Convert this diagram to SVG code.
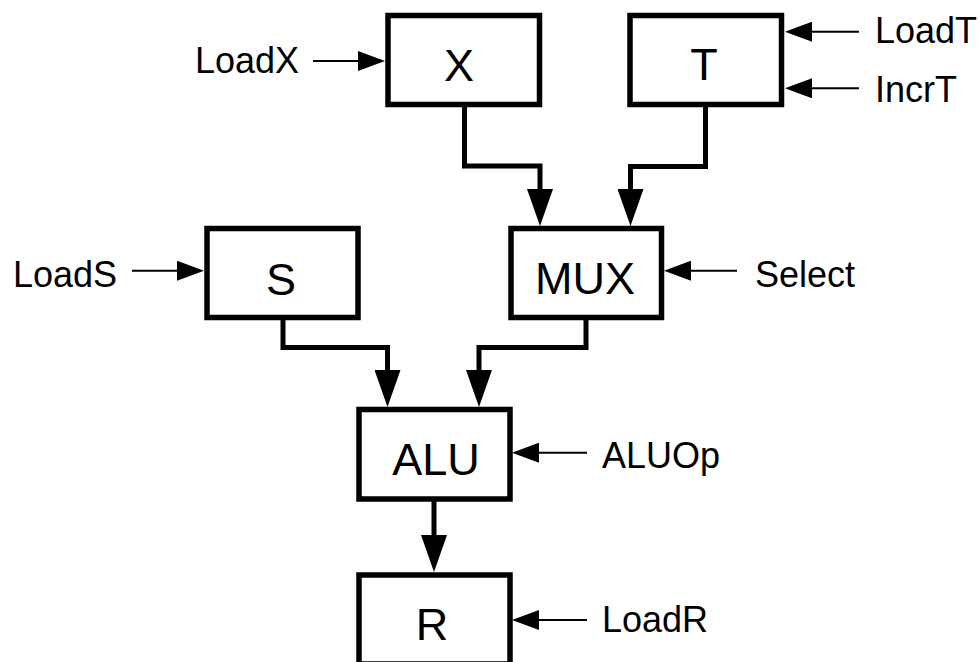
<svg xmlns="http://www.w3.org/2000/svg" width="980" height="662" viewBox="0 0 980 662">
<style>
  .box { fill: #fff; stroke: #000; stroke-width: 5.5; }
  .blabel { font-family: "Liberation Sans", Arial, sans-serif; font-size: 45px; fill: #000; text-anchor: middle; }
  .slabel { font-family: "Liberation Sans", Arial, sans-serif; font-size: 36px; fill: #000; }
  .data { fill: none; stroke: #000; stroke-width: 5; stroke-linejoin: miter; marker-end: url(#bigArrow); }
  .sig { fill: none; stroke: #000; stroke-width: 2; marker-end: url(#smallArrow); }
</style>
<defs>
  <marker id="bigArrow" markerUnits="userSpaceOnUse" viewBox="0 0 37 26" markerWidth="37" markerHeight="26" refX="29" refY="13" orient="auto">
    <path d="M0,0 L37,13 L0,26 z" fill="#000"/>
  </marker>
  <marker id="smallArrow" markerUnits="userSpaceOnUse" viewBox="0 0 27 20" markerWidth="27" markerHeight="20" refX="23" refY="10" orient="auto">
    <path d="M0,0 L27,10 L0,20 z" fill="#000"/>
  </marker>
</defs>
<g id="connectors">
  <path class="data" d="M464.5,104.5 V166 H540 V218"/>
  <path class="data" d="M705.5,104.5 V166.5 H630.5 V218"/>
  <path class="data" d="M283,317.5 V347.5 H387.5 V399"/>
  <path class="data" d="M586,317.5 V347.5 H479 V399"/>
  <path class="data" d="M434,499 V564"/>
  <path class="sig" d="M313,61 H381"/>
  <path class="sig" d="M859,31.7 H789"/>
  <path class="sig" d="M859,88.3 H789"/>
  <path class="sig" d="M132,270.7 H200"/>
  <path class="sig" d="M737,270.7 H668"/>
  <path class="sig" d="M587,452.7 H516"/>
  <path class="sig" d="M587,620 H516"/>
</g>
<g id="node-X">
  <rect class="box" x="388" y="15.5" width="151.5" height="89"/>
  <text class="blabel" x="459" y="81">X</text>
</g>
<g id="node-T">
  <rect class="box" x="630" y="15.5" width="151.5" height="89"/>
  <text class="blabel" x="704" y="80">T</text>
</g>
<g id="node-S">
  <rect class="box" x="207" y="228.5" width="151" height="89"/>
  <text class="blabel" x="281" y="295">S</text>
</g>
<g id="node-MUX">
  <rect class="box" x="511" y="228.5" width="150.5" height="89"/>
  <text class="blabel" x="585" y="294">MUX</text>
</g>
<g id="node-ALU">
  <rect class="box" x="359" y="409.5" width="151" height="89.5"/>
  <text class="blabel" x="436" y="475">ALU</text>
</g>
<g id="node-R">
  <rect class="box" x="359" y="575" width="151" height="89"/>
  <text class="blabel" x="432" y="640">R</text>
</g>
<g id="signal-labels">
  <text class="slabel" x="195" y="72.7">LoadX</text>
  <text class="slabel" x="875" y="43.3">LoadT</text>
  <text class="slabel" x="875" y="101.7">IncrT</text>
  <text class="slabel" x="13" y="286.7">LoadS</text>
  <text class="slabel" x="755" y="286.7">Select</text>
  <text class="slabel" x="602" y="468">ALUOp</text>
  <text class="slabel" x="602" y="631.7">LoadR</text>
</g>
</svg>
